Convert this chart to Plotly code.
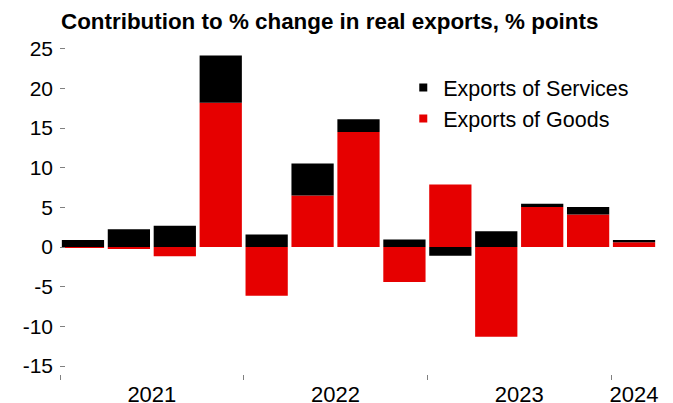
import plotly.graph_objects as go

quarters = ["2021Q1", "2021Q2", "2021Q3", "2021Q4",
            "2022Q1", "2022Q2", "2022Q3", "2022Q4",
            "2023Q1", "2023Q2", "2023Q3", "2023Q4",
            "2024Q1"]
goods = [-0.1, -0.2, -1.15, 18.2, -6.15, 6.5, 14.5, -4.4, 7.9, -11.3, 5.05, 4.1, 0.6]
services = [0.9, 2.25, 2.7, 5.95, 1.6, 4.05, 1.6, 0.95, -1.1, 2.0, 0.4, 0.95, 0.3]
year_labels = ["2021", "2022", "2023", "2024"]
year_centres = [1.5, 5.5, 9.5, 12.0]
year_bounds = [-0.5, 3.5, 7.5, 11.5]
y_ticks = [-15, -10, -5, 0, 5, 10, 15, 20, 25]
y_ticktext = ["-15", "-10", "-5", "0", "5", "10", "15", "20", "25"]

RED = "#E60000"
BLACK = "#000000"
FONT = "Arial, Liberation Sans, Helvetica, sans-serif"

xpos = list(range(len(quarters)))

fig = go.Figure()
fig.add_trace(go.Bar(x=xpos, y=goods, name="Exports of Goods", marker_color=RED,
                     marker_line_width=0, showlegend=False, customdata=quarters,
                     hovertemplate="%{customdata}: %{y}<extra>Goods</extra>"))
fig.add_trace(go.Bar(x=xpos, y=services, name="Exports of Services", marker_color=BLACK,
                     marker_line_width=0, showlegend=False, customdata=quarters,
                     hovertemplate="%{customdata}: %{y}<extra>Services</extra>"))
# legend entries with small square markers
fig.add_trace(go.Scatter(x=[None], y=[None], mode="markers", name="Exports of Services",
                         marker=dict(symbol="square", size=8, color=BLACK)))
fig.add_trace(go.Scatter(x=[None], y=[None], mode="markers", name="Exports of Goods",
                         marker=dict(symbol="square", size=8, color=RED)))

fig.update_layout(
    width=673, height=403,
    margin=dict(l=60, r=16, t=44, b=29, autoexpand=False),
    paper_bgcolor="white", plot_bgcolor="white",
    barmode="relative", bargap=0.08,
    font=dict(family=FONT, size=21, color="#000000"),
    title=dict(text="<b>Contribution to % change in real exports, % points</b>",
               x=61 / 673, xanchor="left", xref="container",
               y=1 - 21 / 403, yanchor="middle", yref="container",
               font=dict(family=FONT, size=22.4, color="#000000")),
    legend=dict(x=0.575, y=0.93, xanchor="left", yanchor="top",
                font=dict(family=FONT, size=21.5), bgcolor="rgba(0,0,0,0)",
                itemwidth=30, tracegroupgap=0),
    showlegend=True,
)
fig.update_xaxes(
    range=[-0.5, 12.5], showgrid=False, zeroline=False, showline=False,
    automargin=False,
    tickmode="array", tickvals=year_centres, ticktext=year_labels, ticks="",
    tickfont=dict(size=22),
    ticklabelstandoff=5,
    minor=dict(tickmode="array", tickvals=year_bounds, ticks="outside", ticklen=5,
               tickcolor="#808080", tickwidth=1, showgrid=False),
)
fig.update_yaxes(
    range=[-16, 25.6], showgrid=False, zeroline=False, showline=False,
    automargin=False,
    tickmode="array", tickvals=y_ticks, ticktext=y_ticktext,
    ticks="inside", ticklen=5, tickcolor="#808080", tickwidth=1,
    tickfont=dict(size=21),
    ticklabelstandoff=6,
)

fig.write_html("out.html")
